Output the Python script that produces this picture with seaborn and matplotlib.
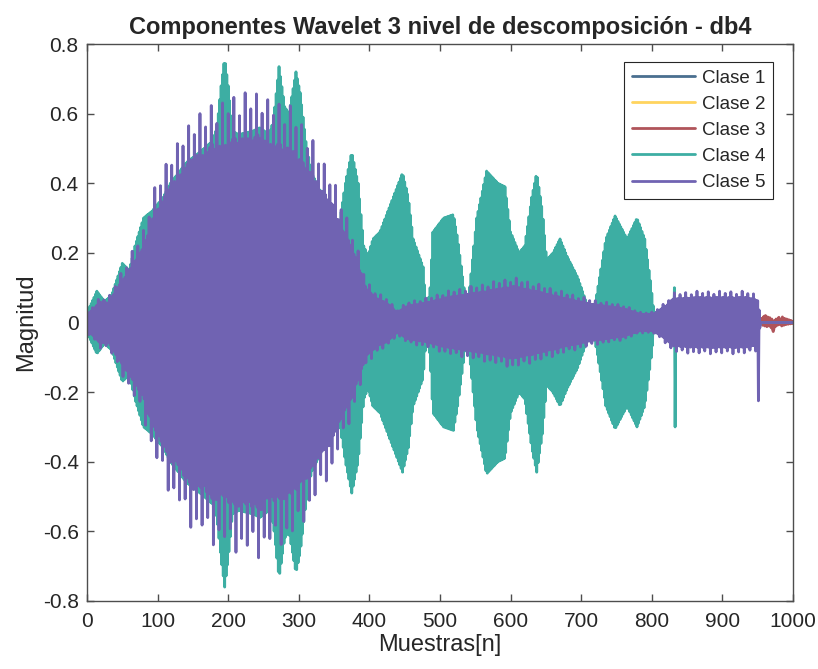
import numpy as np
import pandas as pd
import matplotlib
matplotlib.use("Agg")
import matplotlib.pyplot as plt
import seaborn as sns
from matplotlib.ticker import FixedLocator, FixedFormatter

# ---------------- data ----------------
classes = ["Clase 1", "Clase 2", "Clase 3", "Clase 4", "Clase 5"]
colors = ["#4A6F8F", "#FFD45E", "#B0545A", "#3DAEA3", "#7063B2"]

# Clase 4 envelope (sample, magnitude)
env4_x = [0, 5, 14, 25, 35, 50, 60, 68, 80, 92, 108, 118, 141, 160, 177, 184, 190, 195, 200,
          206, 215, 235, 245, 258, 264, 272, 280, 286, 291, 296, 302, 310, 318, 335, 350, 358,
          366, 375, 384, 392, 398, 405, 415, 430, 447, 455, 462, 476, 481, 486, 490, 505, 519,
          525, 534, 538, 543, 552, 566, 582, 592, 600, 612, 620, 630, 637, 645, 651, 660, 670,
          680, 695, 712, 717, 722, 735, 748, 765, 779, 790, 798, 803, 830, 950, 954, 1000]
env4_y = [0.03, 0.05, 0.09, 0.06, 0.08, 0.17, 0.15, 0.22, 0.30, 0.32, 0.36, 0.40, 0.46, 0.49,
          0.52, 0.56, 0.68, 0.76, 0.68, 0.55, 0.54, 0.55, 0.56, 0.54, 0.58, 0.735, 0.62, 0.60,
          0.66, 0.72, 0.66, 0.52, 0.43, 0.36, 0.28, 0.29, 0.40, 0.49, 0.40, 0.22, 0.19, 0.24,
          0.26, 0.34, 0.43, 0.36, 0.24, 0.16, 0.03, 0.10, 0.26, 0.30, 0.31, 0.24, 0.10, 0.03,
          0.12, 0.30, 0.435, 0.40, 0.39, 0.26, 0.20, 0.22, 0.36, 0.43, 0.32, 0.18, 0.20, 0.24,
          0.19, 0.13, 0.03, 0.03, 0.08, 0.24, 0.306, 0.24, 0.30, 0.24, 0.12, 0.03, 0.03, 0.03,
          0.0, 0.0]

# Clase 5 envelope of spike tops (sample, magnitude)
env5_x = [0, 10, 18, 30, 47, 68, 80, 92, 108, 118, 127, 141, 150, 167, 177, 193, 207, 235, 245,
          255, 273, 290, 311, 328, 347, 354, 375, 396, 411, 425, 439, 455, 480, 510, 560, 604,
          640, 680, 717, 760, 783, 802, 820, 830, 864, 935, 950, 954, 1000]
env5_y = [0.03, 0.05, 0.074, 0.07, 0.14, 0.22, 0.27, 0.37, 0.44, 0.50, 0.51, 0.565, 0.60, 0.60,
          0.64, 0.63, 0.66, 0.66, 0.68, 0.64, 0.64, 0.62, 0.56, 0.49, 0.43, 0.38, 0.27, 0.12,
          0.085, 0.07, 0.036, 0.06, 0.07, 0.09, 0.11, 0.13, 0.11, 0.085, 0.065, 0.05, 0.03,
          0.03, 0.06, 0.085, 0.09, 0.09, 0.08, 0.0, 0.0]

# relative height of successive Clase 5 oscillations (spiky top over a solid body)
spike_pattern5 = [1.00, 0.79, 0.78, 0.97, 0.80, 0.78, 0.79, 0.78, 0.93, 0.80, 0.78, 0.91,
                  0.79, 0.78, 0.80, 0.78, 0.98, 0.79, 0.80, 1.00, 0.78, 0.79, 0.78, 0.80,
                  0.90, 0.78, 0.79, 0.94, 0.80, 0.78, 0.79, 0.78]

# isolated spikes (sample -> magnitude)
spike4 = {832: 0.10, 833: -0.30}
spike5 = {951: -0.225}

# Clase 3 tail after sample 955
red_tail = [0.0, 0.012, -0.008, 0.015, 0.018, -0.01, 0.02, 0.01, -0.012, 0.016, 0.008, -0.01,
            0.014, 0.005, -0.015, 0.01, -0.02, -0.026, -0.018, 0.006, -0.012, 0.01, 0.004,
            -0.008, 0.012, 0.015, -0.006, 0.01, 0.008, -0.01, 0.016, 0.005, -0.008, 0.012,
            0.004, -0.006, 0.01, 0.002, -0.005, 0.008, 0.004, -0.004, 0.006, 0.002, -0.003, 0.004]

x_ticks = [0, 100, 200, 300, 400, 500, 600, 700, 800, 900, 1000]
y_ticks = [-0.8, -0.6, -0.4, -0.2, 0, 0.2, 0.4, 0.6, 0.8]
y_tick_labels = ["-0.8", "-0.6", "-0.4", "-0.2", "0", "0.2", "0.4", "0.6", "0.8"]

# ---------------- build series ----------------
n = np.arange(0, 1001)
sign = np.where(n % 2 == 0, 1.0, -1.0)
e4 = np.interp(n, env4_x, env4_y)
e5 = np.interp(n, env5_x, env5_y)
m5 = np.resize(np.array(spike_pattern5), n.size)
s4 = sign * e4
s5 = sign * e5 * m5
for k, v in spike4.items():
    s4[k] = v
for k, v in spike5.items():
    s5[k] = v
s5[n >= 954] = 0.0
s1 = -sign * 0.45 * e5
s2 = sign * 0.35 * e5
s3 = -sign * 0.30 * e5
s1[n >= 954] = 0.0
s2[n >= 954] = 0.0
s3[n >= 955] = red_tail

series = [s1, s2, s3, s4, s5]
df = pd.concat([pd.DataFrame({"Muestras": n, "Magnitud": s, "Clase": c})
                for c, s in zip(classes, series)], ignore_index=True)

# ---------------- plot ----------------
sns.set_style("ticks")
plt.rcParams["font.family"] = ["Liberation Sans", "DejaVu Sans"]
plt.rcParams["axes.unicode_minus"] = False

fig = plt.figure(figsize=(8.18, 6.69), dpi=100)
ax = fig.add_axes([87 / 818, 1 - 601 / 669, 706 / 818, 557 / 669])

sns.lineplot(data=df, x="Muestras", y="Magnitud", hue="Clase", hue_order=classes,
             palette=colors, estimator=None, sort=False, linewidth=2.0, ax=ax)

ax.set_xlim(0, 1000)
ax.set_ylim(-0.8, 0.8)
ax.xaxis.set_major_locator(FixedLocator(x_ticks))
ax.set_xticklabels([str(t) for t in x_ticks])
ax.yaxis.set_major_locator(FixedLocator(y_ticks))
ax.yaxis.set_major_formatter(FixedFormatter(y_tick_labels))

axc = "#4D4D4D"
for sp in ax.spines.values():
    sp.set_visible(True)
    sp.set_color(axc)
    sp.set_linewidth(1.0)
ax.tick_params(direction="in", length=5, width=1.0, color=axc, top=True, right=True,
               labelsize=15, labelcolor="#262626")
ax.tick_params(axis="y", pad=6)
ax.tick_params(axis="x", pad=8)

ax.set_xlabel("Muestras[n]", fontsize=17, color="#262626", labelpad=2)
ax.set_ylabel("Magnitud", fontsize=17, color="#262626", labelpad=4)
ax.set_title("Componentes Wavelet 3 nivel de descomposición - db4", fontsize=17,
             fontweight="bold", pad=7)

leg = ax.legend(loc="upper right", bbox_to_anchor=((773 - 87) / 706, (601 - 62) / 557),
                borderaxespad=0, fontsize=13.5, frameon=True, fancybox=False,
                handlelength=3.4, handletextpad=0.35, labelspacing=0.48,
                borderpad=0.4, title=None)
leg.get_frame().set_edgecolor("#262626")
leg.get_frame().set_linewidth(0.8)
leg.get_frame().set_alpha(1.0)
for line in leg.get_lines():
    line.set_linewidth(2.0)

fig.savefig("out.png", dpi=100)
